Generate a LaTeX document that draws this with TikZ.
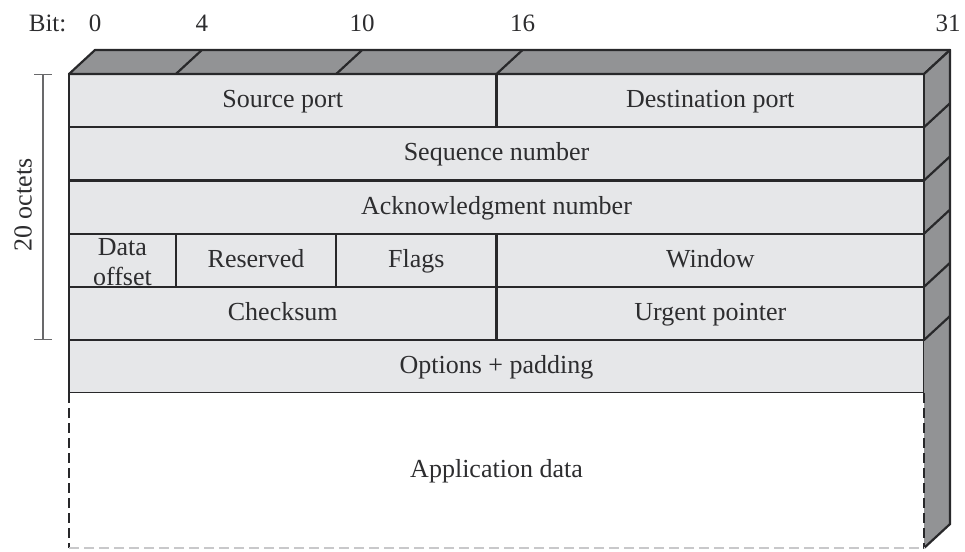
\documentclass[tikz,border=0pt]{standalone}
\usepackage{fontspec}
\setmainfont{Liberation Serif}
\usepackage{tikz}
\usetikzlibrary{arrows.meta, positioning, calc}
\definecolor{fieldgray}{RGB}{230,231,233}
\definecolor{facegray}{RGB}{146,147,149}
\definecolor{edgedark}{RGB}{40,40,42}
\definecolor{textdark}{RGB}{45,45,47}
\definecolor{bracketgray}{RGB}{105,105,107}
\definecolor{lightdash}{RGB}{200,200,202}
\newcommand{\bitw}{26.72pt}

\begin{document}
\begin{tikzpicture}[
  x=1pt, y=-1pt,
  node distance=0pt,
  field/.style={rectangle, draw=edgedark, line width=2.2pt, fill=fieldgray, minimum height=53.2pt, inner sep=0pt, outer sep=0pt, anchor=north west, text height=18pt, text depth=4pt, font=\fontsize{26}{30}\selectfont, text=textdark},
  bitlabel/.style={anchor=base, inner sep=0pt, font=\fontsize{25}{30}\selectfont, text=textdark},
  face/.style={fill=facegray, draw=edgedark, line width=2.2pt, line join=round},
  edge/.style={draw=edgedark, line width=2.2pt, line cap=round},
  dashedge/.style={draw=edgedark, line width=2.2pt, dash pattern=on 10pt off 5pt}
]
\useasboundingbox (0,0) rectangle (965,551);

% Header fields, one row per 32-bit word
\node[field, minimum width=16*\bitw] (srcport) at (69,74) {Source port};
\node[field, minimum width=16*\bitw, right=of srcport.north east, anchor=north west] (dstport) {Destination port};
\node[field, minimum width=32*\bitw, below=of srcport.south west, anchor=north west] (seqnum) {Sequence number};
\node[field, minimum width=32*\bitw, below=of seqnum.south west, anchor=north west] (acknum) {Acknowledgment number};
\node[field, minimum width=4*\bitw, below=of acknum.south west, anchor=north west] (doff) {};
\node[field, minimum width=6*\bitw, right=of doff.north east, anchor=north west] (reserved) {Reserved};
\node[field, minimum width=6*\bitw, right=of reserved.north east, anchor=north west] (flags) {Flags};
\node[field, minimum width=16*\bitw, right=of flags.north east, anchor=north west] (window) {Window};
\node[field, minimum width=16*\bitw, below=of doff.south west, anchor=north west] (checksum) {Checksum};
\node[field, minimum width=16*\bitw, right=of checksum.north east, anchor=north west] (urgent) {Urgent pointer};
\node[field, minimum width=32*\bitw, below=of checksum.south west, anchor=north west] (options) {Options + padding};
\node[field, draw=none, fill=white, minimum width=32*\bitw, minimum height=154.8pt, below=of options.south west, anchor=north west] (appdata) {Application data};

\node[align=center, inner sep=0pt, font=\fontsize{26}{30}\selectfont, text=textdark] (dofftext) at ($(doff.center)+(0,2)$) {Data\\offset};

% Top face
\draw[face] (srcport.north west) -- ++(26,-24) -- ($(dstport.north east)+(26,-24)$) -- (dstport.north east) -- cycle;
\foreach \b in {4,10,16}
  \draw[edge] ($(srcport.north west)+(\b*\bitw,0)$) -- ++(26,-24);

% Side face
\fill[facegray] (dstport.north east) -- ++(26,-24) -- ($(appdata.south east)+(26,-24)$) -- (appdata.south east) -- cycle;
\draw[edge] ($(dstport.north east)+(26,-24)$) -- ($(appdata.south east)+(26,-24)$) -- (appdata.south east);
\draw[edge] (dstport.north east) -- ($(dstport.north east)+(26,-24)$);
\foreach \n in {dstport, seqnum, acknum, window, urgent}
  \draw[edge] (\n.south east) -- ++(26,-24);
\draw[edge] (dstport.north east) -- (urgent.south east);

% Open end of the data part
\draw[dashedge] (appdata.north west) -- (appdata.south west);
\draw[dashedge] (appdata.north east) -- (appdata.south east);
\draw[draw=lightdash, line width=1.5pt, dash pattern=on 10pt off 5pt] (appdata.south west) -- (appdata.south east);

% Bit positions
\foreach \b in {0,4,10,16}
  \node[bitlabel] (bit\b) at ($(srcport.north west)+(\b*\bitw+26,-42)$) {\b};
\node[bitlabel] (bit31) at ($(dstport.north east)+(24,-42)$) {31};
\node[bitlabel, anchor=base east] (bitword) at ($(bit0.base west)+(-22,0)$) {Bit:};

% Header length bracket
\coordinate (octtop) at (43,74);
\coordinate (octbot) at (43,340);
\draw[{Bar[width=18pt]}-{Bar[width=18pt]}, draw=bracketgray, line width=1.4pt] (octtop) -- (octbot);
\node[rotate=90, inner sep=0pt, font=\fontsize{26}{30}\selectfont, text=textdark] (octets) at (23,205) {20 octets};

\end{tikzpicture}
\end{document}
